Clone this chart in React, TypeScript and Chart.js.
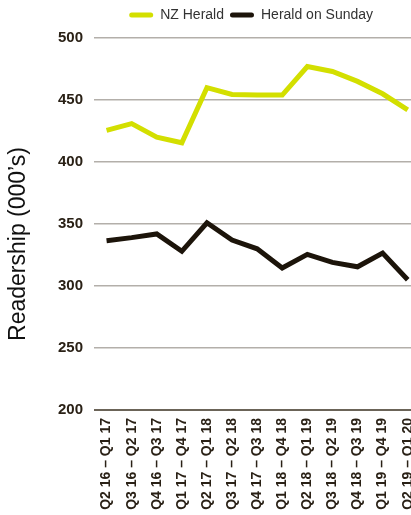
import React, { useEffect, useRef } from "react";
import { Chart, registerables } from "chart.js";

Chart.register(...registerables);

const categories = [
  "Q2 16 – Q1 17",
  "Q3 16 – Q2 17",
  "Q4 16 – Q3 17",
  "Q1 17 – Q4 17",
  "Q2 17 – Q1 18",
  "Q3 17 – Q2 18",
  "Q4 17 – Q3 18",
  "Q1 18 – Q4 18",
  "Q2 18 – Q1 19",
  "Q3 18 – Q2 19",
  "Q4 18 – Q3 19",
  "Q1 19 – Q4 19",
  "Q2 19 – Q1 20",
];
const nzHerald = [425.5, 431, 420, 415.5, 460, 454.5, 454, 454, 477, 473, 465, 455, 442];
const heraldOnSunday = [336.5, 339, 342, 328, 351, 337, 330, 314.5, 325.5, 319, 315.5, 326.5, 305];
const yTicks = [200, 250, 300, 350, 400, 450, 500];
const yTitle = "Readership (000’s)";

const GREEN = "#d3df00";
const DARK = "#1c140a";
const NARROW = "'Liberation Sans Narrow', 'Arial Narrow', 'Liberation Sans', Arial, sans-serif";
const SANS = "'Liberation Sans', Arial, sans-serif";

const legendMargin = {
  id: "legendMargin",
  beforeInit(chart: any) {
    const lg = chart.legend;
    if (!lg) return;
    const orig = lg.fit;
    lg.fit = function () {
      orig.call(this);
      this.height += 6;
    };
  },
  afterLayout(chart: any) {
    const lg = chart.legend;
    if (!lg) return;
    lg.left -= 6;
    lg.right -= 6;
  },
};

const yTitlePlugin = {
  id: "yTitlePlugin",
  afterDraw(chart: any) {
    const ctx = chart.ctx;
    ctx.save();
    ctx.translate(19, 244);
    ctx.rotate(-Math.PI / 2);
    ctx.font = `23px ${SANS}`;
    ctx.fillStyle = "#111";
    ctx.textAlign = "center";
    ctx.textBaseline = "middle";
    ctx.fillText(yTitle, 0, 0);
    ctx.restore();
  },
};

export default function App() {
  const ref = useRef<HTMLCanvasElement | null>(null);
  useEffect(() => {
    if (!ref.current) return;
    const chart = new Chart(ref.current, {
      type: "line",
      data: {
        labels: categories,
        datasets: [
          {
            label: "NZ Herald",
            data: nzHerald,
            borderColor: GREEN,
            backgroundColor: GREEN,
            borderWidth: 5,
            pointRadius: 0,
            tension: 0,
          },
          {
            label: "Herald on Sunday",
            data: heraldOnSunday,
            borderColor: DARK,
            backgroundColor: DARK,
            borderWidth: 5,
            pointRadius: 0,
            tension: 0,
          },
        ],
      },
      plugins: [legendMargin, yTitlePlugin],
      options: {
        animation: false,
        responsive: true,
        maintainAspectRatio: false,
        layout: { padding: { top: 2, bottom: 5, left: 0, right: 0 } },
        plugins: {
          tooltip: { enabled: false },
          legend: {
            position: "top",
            align: "center",
            fullSize: false,
            labels: {
              boxWidth: 24,
              boxHeight: 5,
              useBorderRadius: true,
              borderRadius: 2.5,
              color: "#333",
              padding: 6,
              font: { family: SANS, size: 14 },
              generateLabels: (c: any) =>
                c.data.datasets.map((ds: any, i: number) => ({
                  text: ds.label,
                  fillStyle: ds.borderColor,
                  strokeStyle: ds.borderColor,
                  lineWidth: 0,
                  hidden: false,
                  datasetIndex: i,
                  fontColor: "#333",
                  borderRadius: 2.5,
                })),
            },
          },
        },
        scales: {
          x: {
            offset: true,
            grid: { display: false, drawTicks: false },
            border: { display: false },
            afterFit: (s: any) => {
              s.height = 100;
            },
            ticks: {
              autoSkip: false,
              minRotation: 90,
              maxRotation: 90,
              color: "#2a2116",
              padding: 8,
              font: { family: NARROW, size: 14, weight: "bold" },
            },
          },
          y: {
            min: 200,
            max: 500,
            afterBuildTicks: (s: any) => {
              s.ticks = yTicks.map((v) => ({ value: v }));
            },
            afterFit: (s: any) => {
              s.width = 94;
            },
            grid: {
              drawTicks: false,
              color: (ctx: any) => (ctx.tick && ctx.tick.value === 200 ? "#6b6458" : "#b3afaa"),
              lineWidth: (ctx: any) => (ctx.tick && ctx.tick.value === 200 ? 2 : 1.5),
            },
            border: { display: false },
            ticks: {
              color: "#2a2116",
              padding: 11,
              font: { family: NARROW, size: 15, weight: "bold" },
            },
          },
        },
      },
    });
    return () => chart.destroy();
  }, []);
  return (
    <div style={{ position: "absolute", left: 0, top: 0, width: 411, height: 515, overflow: "hidden" }}>
      <div style={{ position: "relative", width: 433, height: 515 }}>
        <canvas ref={ref} />
      </div>
    </div>
  );
}
